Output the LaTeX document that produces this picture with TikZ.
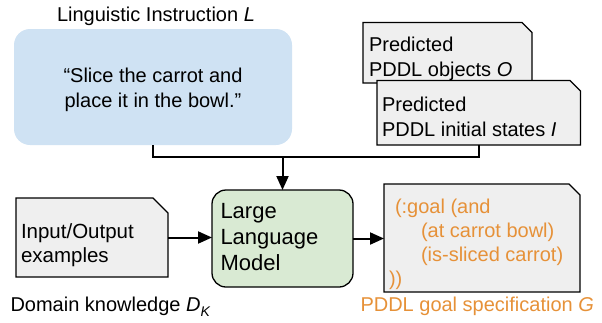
\documentclass[tikz,border=0pt]{standalone}
\usepackage{fontspec}
\setmainfont{Liberation Sans}
\usetikzlibrary{arrows.meta}
\definecolor{bluefill}{HTML}{CFE2F3}
\definecolor{greenfill}{HTML}{D9EAD3}
\definecolor{docgray}{HTML}{EFEFEF}
\definecolor{goalorange}{HTML}{E69138}
\tikzset{
  txt/.style={font=\fontsize{20}{25}\selectfont, inner sep=0pt, outer sep=0pt, align=left},
  frame/.style={draw=none, inner sep=0pt, outer sep=0pt},
  docshape/.style={fill=docgray, draw=black, line width=1.3pt},
  conn/.style={line width=2pt},
  arr/.style={conn, -{Triangle[length=14pt,width=12pt]}},
}
\newcommand\chamferbox[2]{\path[docshape] (#1.north west) -- ([xshift=-#2]#1.north east) -- ([yshift=-#2]#1.north east) -- (#1.south east) -- (#1.south west) -- cycle;}
\begin{document}
\begin{tikzpicture}[x=1pt,y=-1pt]
\useasboundingbox (0,0) rectangle (602,322);
% linguistic instruction
\node[txt, anchor=base] (instrtitle) at (156,21) {Linguistic Instruction \textit{L}};
\node[frame, fill=bluefill, rounded corners=16pt, minimum width=278pt, minimum height=116pt] (instr) at (153,87) {};
\node[txt, align=center, anchor=base] (instrtext) at (153,107) {“Slice the carrot and\\place it in the bowl.”};
% predicted objects
\node[frame, minimum width=169pt, minimum height=60.5pt] (objs) at (447.5,52.75) {};
\chamferbox{objs}{10pt}
\node[txt, anchor=base west] (objstext) at (369,76) {Predicted\\PDDL objects \textit{O}};
% predicted initial states
\node[frame, minimum width=203.5pt, minimum height=64.5pt] (states) at (478.75,112.75) {};
\chamferbox{states}{10.5pt}
\node[txt, anchor=base west] (statestext) at (382,136) {Predicted\\PDDL initial states \textit{I}};
% input/output examples
\node[frame, minimum width=152pt, minimum height=79pt] (io) at (92,237.5) {};
\chamferbox{io}{15pt}
\node[txt, font=\fontsize{20.5}{24}\selectfont, anchor=base west] (iotext) at (21,262.5) {Input/Output\\examples};
\node[txt, anchor=base west] (domain) at (10.5,311) {Domain knowledge \textit{D}\raisebox{-5pt}{\fontsize{14}{14}\selectfont\textit{K}}};
% LLM
\node[frame, draw=black, line width=1.3pt, fill=greenfill, rounded corners=14pt, minimum width=141pt, minimum height=97pt] (llm) at (282.5,238.5) {};
\node[txt, font=\fontsize{22}{26}\selectfont, anchor=base west] (llmtext) at (220.5,270) {Large\\Language\\Model};
% goal
\node[frame, minimum width=196pt, minimum height=108pt] (goal) at (482,238) {};
\chamferbox{goal}{11pt}
\node[txt, font=\fontsize{20}{24}\selectfont, text=goalorange, anchor=base west] (goaltext) at (389,285) {\hspace*{6pt}(:goal (and\\\hspace*{32pt}(at carrot bowl)\\\hspace*{32pt}(is-sliced carrot)\\))};
\node[txt, text=goalorange, anchor=base west] (goallabel) at (360.5,311) {PDDL goal specification \textit{G}};
% connectors
\coordinate (bus) at (153,156.5);
\draw[conn] (instr.south) -- (bus) -| (states.south);
\draw[arr] (llm.north |- bus) -- (llm.north);
\draw[arr] (io.east) -- (llm.west |- io.east);
\draw[arr] (llm.east) -- (goal.west |- llm.east);
\end{tikzpicture}
\end{document}
